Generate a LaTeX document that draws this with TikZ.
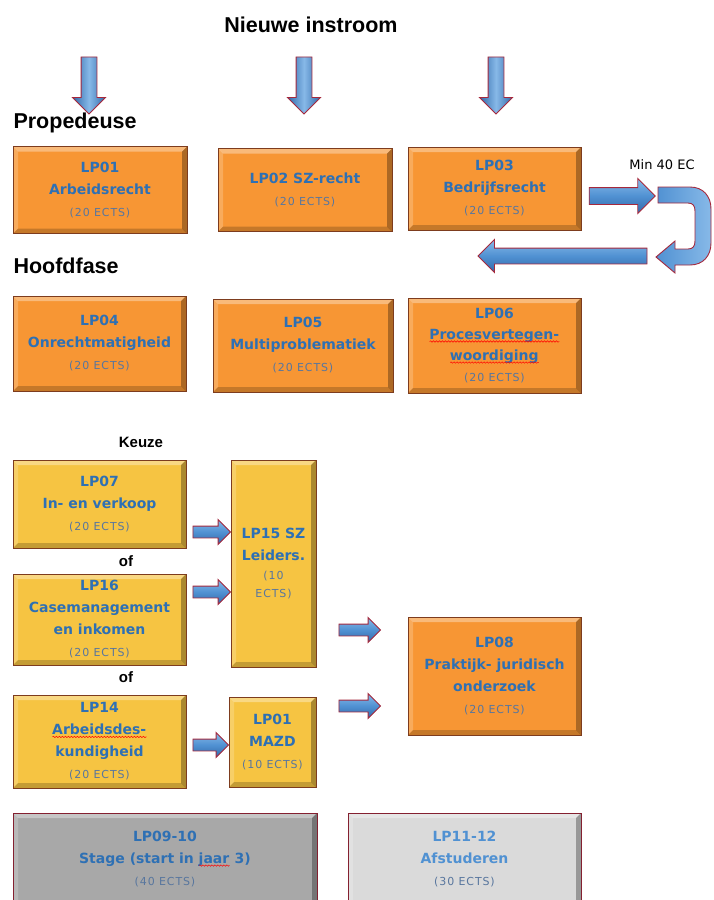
\documentclass[tikz,border=0pt]{standalone}
\usepackage{fontspec}
\setmainfont{DejaVu Sans}
\newfontfamily\headfont{Liberation Sans}
\newfontfamily\ectsfont[LetterSpace=8]{DejaVu Sans}
\usetikzlibrary{shapes.arrows,calc,decorations.pathmorphing}

\definecolor{lpblue}{RGB}{46,112,180}
\definecolor{ectsblue}{RGB}{88,118,158}
\definecolor{lporange}{RGB}{247,150,52}
\definecolor{lpyellow}{RGB}{246,196,66}
\definecolor{lpgray}{RGB}{168,168,168}
\definecolor{lplight}{RGB}{218,218,218}
\definecolor{lpedge}{RGB}{125,60,30}
\definecolor{arrowred}{RGB}{165,40,60}
\definecolor{arrowblue}{RGB}{80,145,210}
\definecolor{arrowlight}{RGB}{135,185,232}
\definecolor{arrowdark}{RGB}{50,105,170}

\newcommand{\ects}[1]{{\mdseries\ectsfont\fontsize{11}{13}\selectfont\color{ectsblue}(#1 ECTS)}}
% red spell-check wave under a word
\newcommand{\spellred}[1]{\setbox0\hbox{#1}\rlap{\copy0}\raisebox{-3pt}{\tikz[x=1pt,y=1pt]\draw[red, fill=none, line width=0.5pt,
    decorate, decoration={snake, amplitude=0.7pt, segment length=3pt}] (0,0) -- (\the\wd0,0);}}

% block arrow between two points
\newcommand{\barrow}[3][]{%
  \path let \p1=(#2), \p2=(#3), \n1={veclen(\x2-\x1,\y2-\y1)} in
    (\p1) -- (\p2) node[barrow, #1, midway, sloped, allow upside down, minimum height=\n1] {};}

\tikzset{
  lpbox/.style={draw=lpedge, fill=#1, line width=0.8pt, align=center, inner sep=2pt,
    font=\fontsize{14}{22}\selectfont\bfseries, text=lpblue,
    path picture={
      \fill[white,opacity=0.35] (path picture bounding box.north west) -- (path picture bounding box.north east)
        -- ++(-5pt,-5pt) -- ([xshift=5pt,yshift=-5pt]path picture bounding box.north west) -- cycle;
      \fill[white,opacity=0.2] (path picture bounding box.north west) -- (path picture bounding box.south west)
        -- ++(5pt,5pt) -- ([xshift=5pt,yshift=-5pt]path picture bounding box.north west) -- cycle;
      \fill[black,opacity=0.2] (path picture bounding box.south west) -- (path picture bounding box.south east)
        -- ++(-5pt,5pt) -- ([xshift=5pt,yshift=5pt]path picture bounding box.south west) -- cycle;
      \fill[black,opacity=0.3] (path picture bounding box.south east) -- (path picture bounding box.north east)
        -- ++(-5pt,-5pt) -- ([xshift=-5pt,yshift=5pt]path picture bounding box.south east) -- cycle;
    }},
  barrow/.style={single arrow, draw=arrowred, line width=0.9pt, inner xsep=0pt,
    inner ysep=5.5pt, single arrow head extend=6.5pt,
    top color=arrowlight, bottom color=arrowdark, middle color=arrowblue},
  downarrow/.style={inner ysep=7.5pt, single arrow head extend=8.5pt,
    left color=arrowdark, right color=arrowdark, middle color=arrowlight},
  headtext/.style={font=\headfont\bfseries\fontsize{21.5}{24}\selectfont},
  smalltext/.style={font=\headfont\bfseries\fontsize{15}{18}\selectfont},
}

\begin{document}
\begin{tikzpicture}[x=1pt,y=-1pt]

    \useasboundingbox (0,0) rectangle (713,900);
    \clip (0,0) rectangle (713,900);

    % Headings
    \node[headtext] (instroom) at (311,25) {Nieuwe instroom};
    \node[headtext, anchor=west] (prop) at (10,123) {Propedeuse};
    \node[headtext, anchor=west] (hoofd) at (10,266) {Hoofdfase};

    % Entry arrows
    \foreach \i/\x in {1/89,2/304,3/496} {
        \coordinate (in\i) at (\x,53);
        \coordinate (out\i) at (\x,110);
        \barrow[name=down\i, downarrow]{in\i}{out\i}
    }

    % Propedeuse
    \node[lpbox=lporange, minimum width=174pt, minimum height=87pt] (lp01) at (100,190)
        {LP01\\Arbeidsrecht\\\ects{20}};
    \node[lpbox=lporange, minimum width=174pt, minimum height=83pt] (lp02) at (305,190)
        {LP02 SZ-recht\\\ects{20}};
    \node[lpbox=lporange, minimum width=173pt, minimum height=83pt] (lp03) at (494.5,188.5)
        {LP03\\Bedrijfsrecht\\\ects{20}};

    % Min 40 EC turn
    \node[font=\fontsize{13}{15}\selectfont] (min40) at (662,165) {Min 40 EC};
    \coordinate (r1) at (585,196);
    \coordinate (r2) at (651,196);
    \barrow[name=right1, inner ysep=8pt, single arrow head extend=9pt]{r1}{r2}
    \draw[draw=arrowred, line width=0.9pt, left color=arrowblue, right color=arrowlight]
        (658,187) -- (690,187) .. controls (703,187) and (711,196) .. (711,209)
        -- (711,243) .. controls (711,256) and (703,265) .. (690,265) -- (675,265)
        -- (675,273) -- (656,257) -- (675,241) -- (675,249) -- (688,249)
        .. controls (693,249) and (695,246) .. (695,241) -- (695,211)
        .. controls (695,206) and (693,203) .. (688,203) -- (658,203) -- cycle;
    \coordinate (l1) at (651,256);
    \coordinate (l2) at (482,256);
    \barrow[name=left1, inner ysep=7.5pt, single arrow head extend=8.5pt]{l1}{l2}

    % Hoofdfase
    \node[lpbox=lporange, minimum width=173pt, minimum height=95pt] (lp04) at (99.5,343.5)
        {LP04\\Onrechtmatigheid\\\ects{20}};
    \node[lpbox=lporange, minimum width=180pt, minimum height=93pt] (lp05) at (303,345.5)
        {LP05\\Multiproblematiek\\\ects{20}};
    \node[lpbox=lporange, minimum width=173pt, minimum height=95pt, font=\fontsize{14}{21}\selectfont\bfseries] (lp06) at (494.5,345.5)
        {LP06\\\spellred{Procesvertegen-}\\\spellred{woordiging}\\\ects{20}};

    % Keuze
    \node[smalltext] (keuze) at (141,442) {Keuze};
    \node[lpbox=lpyellow, minimum width=173pt, minimum height=88pt] (lp07) at (99.5,504)
        {LP07\\In- en verkoop\\\ects{20}};
    \node[smalltext] (of1) at (126,561) {of};
    \node[lpbox=lpyellow, minimum width=173pt, minimum height=91pt] (lp16) at (99.5,619.5)
        {LP16\\Casemanagement\\en inkomen\\\ects{20}};
    \node[smalltext] (of2) at (126,677) {of};
    \node[lpbox=lpyellow, minimum width=173pt, minimum height=93pt] (lp14) at (99.5,741.5)
        {LP14\\\spellred{Arbeidsdes-}\\kundigheid\\\ects{20}};

    \node[lpbox=lpyellow, minimum width=85pt, minimum height=207pt] (lp15) at (273.5,563.5)
        {LP15 SZ\\Leiders.\\[-3pt]{\mdseries\ectsfont\fontsize{11}{13}\selectfont\color{ectsblue}(10}\\[-4pt]{\mdseries\ectsfont\fontsize{11}{13}\selectfont\color{ectsblue}ECTS)}};
    \node[lpbox=lpyellow, minimum width=87pt, minimum height=90pt] (mazd) at (272.5,742)
        {LP01\\MAZD\\\ects{10}};

    \node[lpbox=lporange, minimum width=173pt, minimum height=118pt] (lp08) at (494.5,676)
        {LP08\\Praktijk- juridisch\\onderzoek\\\ects{20}};

    % Keuze arrows
    \coordinate (a1) at (190,532);
    \coordinate (a2) at (190,592);
    \coordinate (a3) at (190,745);
    \barrow[name=k1]{a1}{$(lp15.west |- a1)+(-3,0)$}
    \barrow[name=k2]{a2}{$(lp15.west |- a2)+(-3,0)$}
    \barrow[name=k3]{a3}{$(mazd.west |- a3)+(-3,0)$}
    \coordinate (b1) at (336,630);
    \coordinate (b2) at (336,706);
    \barrow[name=k4]{b1}{$(lp08.west |- b1)+(-30,0)$}
    \barrow[name=k5]{b2}{$(lp08.west |- b2)+(-30,0)$}

    % Stage and afstuderen
    \node[lpbox=lpgray, draw=arrowred!80!black, minimum width=304pt, minimum height=92pt] (lp0910) at (165,859)
        {LP09-10\\Stage (start in \spellred{jaar} 3)\\\ects{40}};
    \node[lpbox=lplight, draw=arrowred!80!black, text=arrowblue, minimum width=233pt, minimum height=92pt] (lp1112) at (464.5,859)
        {LP11-12\\Afstuderen\\\ects{30}};

\end{tikzpicture}
\end{document}
